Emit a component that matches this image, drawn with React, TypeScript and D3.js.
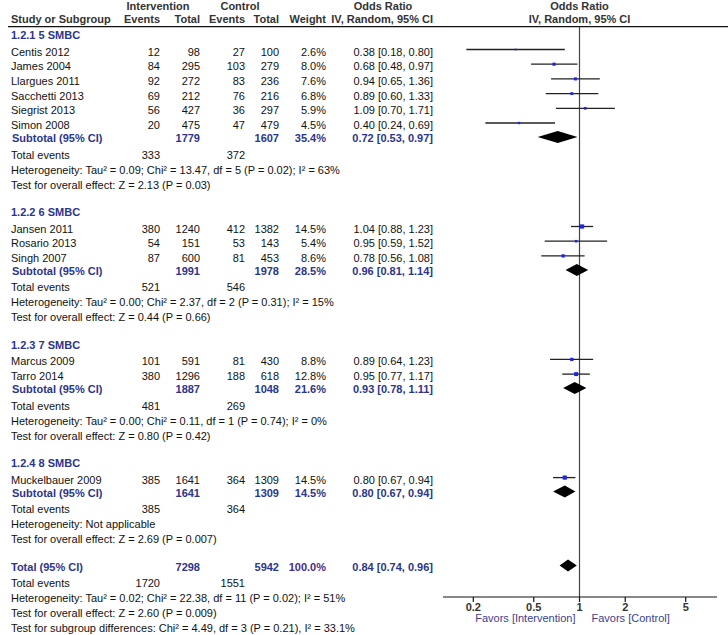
import React from 'react';
import * as d3 from 'd3';

// forest plot data
const groupLabels = ['1.2.1 5 SMBC', '1.2.2 6 SMBC', '1.2.3 7 SMBC', '1.2.4 8 SMBC'];

const studyNames = [
  'Centis 2012', 'James 2004', 'Llargues 2011', 'Sacchetti 2013', 'Siegrist 2013', 'Simon 2008',
  'Jansen 2011', 'Rosario 2013', 'Singh 2007',
  'Marcus 2009', 'Tarro 2014',
  'Muckelbauer 2009',
];
const studyGroup = [0, 0, 0, 0, 0, 0, 1, 1, 1, 2, 2, 3];
const eventsI = [12, 84, 92, 69, 56, 20, 380, 54, 87, 101, 380, 385];
const totalI = [98, 295, 272, 212, 427, 475, 1240, 151, 600, 591, 1296, 1641];
const eventsC = [27, 103, 83, 76, 36, 47, 412, 53, 81, 81, 188, 364];
const totalC = [100, 279, 236, 216, 297, 479, 1382, 143, 453, 430, 618, 1309];
const weights = [2.6, 8.0, 7.6, 6.8, 5.9, 4.5, 14.5, 5.4, 8.6, 8.8, 12.8, 14.5];
const orEst = [0.38, 0.68, 0.94, 0.89, 1.09, 0.40, 1.04, 0.95, 0.78, 0.89, 0.95, 0.80];
const orLo = [0.18, 0.48, 0.65, 0.60, 0.70, 0.24, 0.88, 0.59, 0.56, 0.64, 0.77, 0.67];
const orHi = [0.80, 0.97, 1.36, 1.33, 1.71, 0.69, 1.23, 1.52, 1.08, 1.23, 1.17, 0.94];

const subTotalI = [1779, 1991, 1887, 1641];
const subTotalC = [1607, 1978, 1048, 1309];
const subWeight = [35.4, 28.5, 21.6, 14.5];
const subOr = [0.72, 0.96, 0.93, 0.80];
const subLo = [0.53, 0.81, 0.78, 0.67];
const subHi = [0.97, 1.14, 1.11, 0.94];
const subEventsI = [333, 521, 481, 385];
const subEventsC = [372, 546, 269, 364];
const subHet = [
  'Heterogeneity: Tau² = 0.09; Chi² = 13.47, df = 5 (P = 0.02); I² = 63%',
  'Heterogeneity: Tau² = 0.00; Chi² = 2.37, df = 2 (P = 0.31); I² = 15%',
  'Heterogeneity: Tau² = 0.00; Chi² = 0.11, df = 1 (P = 0.74); I² = 0%',
  'Heterogeneity: Not applicable',
];
const subTest = [
  'Test for overall effect: Z = 2.13 (P = 0.03)',
  'Test for overall effect: Z = 0.44 (P = 0.66)',
  'Test for overall effect: Z = 0.80 (P = 0.42)',
  'Test for overall effect: Z = 2.69 (P = 0.007)',
];

const total = { totI: 7298, totC: 5942, weight: 100.0, or: 0.84, lo: 0.74, hi: 0.96, evI: 1720, evC: 1551 };
const totalNotes = [
  'Heterogeneity: Tau² = 0.02; Chi² = 22.38, df = 11 (P = 0.02); I² = 51%',
  'Test for overall effect: Z = 2.60 (P = 0.009)',
  'Test for subgroup differences: Chi² = 4.49, df = 3 (P = 0.21), I² = 33.1%',
];

const tickValues = [0.2, 0.5, 1, 2, 5];

const NAVY = '#2b358c';
const FONT = '"Liberation Sans", Arial, sans-serif';

type Row = { kind: string; y: number; i?: number; text?: string };

const gapAfter: Record<string, Record<string, number>> = {
  group: { study: 16.5 },
  study: { study: 14.7, subtotal: 13 },
  subtotal: { events: 16.5 },
  events: { note: 15 },
  note: { note: 15, group: 27.5, total: 27.5 },
  total: { events: 16.7 },
};

function buildRows(): Row[] {
  const list: Row[] = [];
  groupLabels.forEach((g, gi) => {
    list.push({ kind: 'group', y: 0, i: gi });
    studyNames.forEach((_, si) => {
      if (studyGroup[si] === gi) list.push({ kind: 'study', y: 0, i: si });
    });
    list.push({ kind: 'subtotal', y: 0, i: gi });
    list.push({ kind: 'events', y: 0, i: gi });
    list.push({ kind: 'note', y: 0, text: subHet[gi] });
    list.push({ kind: 'note', y: 0, text: subTest[gi] });
  });
  list.push({ kind: 'total', y: 0 });
  list.push({ kind: 'events', y: 0, i: -1 });
  totalNotes.forEach((t) => list.push({ kind: 'note', y: 0, text: t }));
  let y = 35;
  list.forEach((r, k) => {
    if (k > 0) {
      const prev = list[k - 1].kind;
      y += (gapAfter[prev] && gapAfter[prev][r.kind]) || 15;
    }
    r.y = y;
  });
  return list;
}

const fmtOr = (e: number, l: number, h: number) => `${e.toFixed(2)} [${l.toFixed(2)}, ${h.toFixed(2)}]`;
const fmtW = (w: number) => `${w.toFixed(1)}%`;

const col = { name: 11, evI: 160, totI: 200, evC: 245, totC: 279, weight: 326, or: 433 };

export default function App() {
  const width = 728;
  const height = 635;
  const x = d3.scaleLog().domain([0.2, 5]).range([473.3, 685.7]);
  const size = d3.scaleSqrt().domain([0, 14.5]).range([0, 4.2]);
  const rows = buildRows();
  const axisY = 597;
  const base = 4; // text baseline offset from row centre

  const num = (v: string | number, cx: number, y: number, props: any = {}) => (
    <text x={cx} y={y + base} textAnchor="end" {...props}>{v}</text>
  );

  const diamond = (e: number, l: number, h: number, y: number) =>
    `M${x(l)},${y}L${x(e)},${y - 6}L${x(h)},${y}L${x(e)},${y + 6}Z`;

  return (
    <svg width={width} height={height} style={{ position: 'absolute', left: 0, top: 0 }}
      fontFamily={FONT} fontSize={11} fill="#111">
      <rect width={width} height={height} fill="#fff" />
      {/* header */}
      <g fontWeight="bold" fill="#333">
        <text x={158} y={10} textAnchor="middle">Intervention</text>
        <text x={240} y={10} textAnchor="middle">Control</text>
        <text x={383} y={10} textAnchor="middle">Odds Ratio</text>
        <text x={x(1)} y={10} textAnchor="middle">Odds Ratio</text>
        <text x={col.name} y={23}>Study or Subgroup</text>
        <text x={col.evI} y={23} textAnchor="end">Events</text>
        <text x={col.totI} y={23} textAnchor="end">Total</text>
        <text x={col.evC} y={23} textAnchor="end">Events</text>
        <text x={col.totC} y={23} textAnchor="end">Total</text>
        <text x={col.weight} y={23} textAnchor="end">Weight</text>
        <text x={col.or} y={23} textAnchor="end">IV, Random, 95% CI</text>
        <text x={x(1)} y={23} textAnchor="middle">IV, Random, 95% CI</text>
      </g>
      <line x1={8} x2={width} y1={26.7} y2={26.7} stroke="#111" strokeWidth={1.2} />

      {/* null line and axis */}
      <line x1={x(1)} x2={x(1)} y1={26.7} y2={axisY} stroke="#444" strokeWidth={1.2} />
      <line x1={443} x2={717} y1={axisY} y2={axisY} stroke="#111" strokeWidth={1.2} />
      {tickValues.map((t) => (
        <g key={t}>
          <line x1={x(t)} x2={x(t)} y1={axisY} y2={axisY + 5} stroke="#111" strokeWidth={1.2} />
          <text x={x(t)} y={axisY + 14} textAnchor="middle" fontWeight="bold" fill="#333">{t}</text>
        </g>
      ))}
      <text x={x(1) - 4} y={622} textAnchor="end" fill="#3a3f8f">Favors [Intervention]</text>
      <text x={x(1) + 12} y={622} fill="#3a3f8f">Favors [Control]</text>

      {rows.map((r, k) => {
        const y = r.y;
        if (r.kind === 'group') {
          return <text key={k} x={col.name} y={y + base} fontWeight="bold" fill={NAVY}>{groupLabels[r.i!]}</text>;
        }
        if (r.kind === 'study') {
          const i = r.i!;
          const s = size(weights[i]);
          return (
            <g key={k}>
              <text x={col.name} y={y + base}>{studyNames[i]}</text>
              {num(eventsI[i], col.evI, y)}
              {num(totalI[i], col.totI, y)}
              {num(eventsC[i], col.evC, y)}
              {num(totalC[i], col.totC, y)}
              {num(fmtW(weights[i]), col.weight, y)}
              {num(fmtOr(orEst[i], orLo[i], orHi[i]), col.or, y)}
              <line x1={x(orLo[i])} x2={x(orHi[i])} y1={y - 2} y2={y - 2} stroke="#222" strokeWidth={1.3} />
              <rect x={x(orEst[i]) - s / 2} y={y - 2 - s / 2} width={s} height={s} fill="#2323e6" />
            </g>
          );
        }
        if (r.kind === 'subtotal') {
          const i = r.i!;
          return (
            <g key={k} fontWeight="bold" fill={NAVY}>
              <text x={12} y={y + base}>Subtotal (95% CI)</text>
              {num(subTotalI[i], col.totI, y)}
              {num(subTotalC[i], col.totC, y)}
              {num(fmtW(subWeight[i]), col.weight, y)}
              {num(fmtOr(subOr[i], subLo[i], subHi[i]), col.or, y)}
              <path d={diamond(subOr[i], subLo[i], subHi[i], y - 1)} fill="#000" />
            </g>
          );
        }
        if (r.kind === 'total') {
          return (
            <g key={k} fontWeight="bold" fill={NAVY}>
              <text x={col.name} y={y + base}>Total (95% CI)</text>
              {num(total.totI, col.totI, y)}
              {num(total.totC, col.totC, y)}
              {num(fmtW(total.weight), col.weight, y, { fill: '#4b2a8c' })}
              {num(fmtOr(total.or, total.lo, total.hi), col.or, y)}
              <path d={diamond(total.or, total.lo, total.hi, y - 1)} fill="#000" />
            </g>
          );
        }
        if (r.kind === 'events') {
          const i = r.i!;
          const a = i >= 0 ? subEventsI[i] : total.evI;
          const b = i >= 0 ? subEventsC[i] : total.evC;
          return (
            <g key={k}>
              <text x={col.name} y={y + base}>Total events</text>
              {num(a, col.evI, y)}
              {num(b, col.evC, y)}
            </g>
          );
        }
        return <text key={k} x={col.name} y={y + base}>{r.text}</text>;
      })}
    </svg>
  );
}
